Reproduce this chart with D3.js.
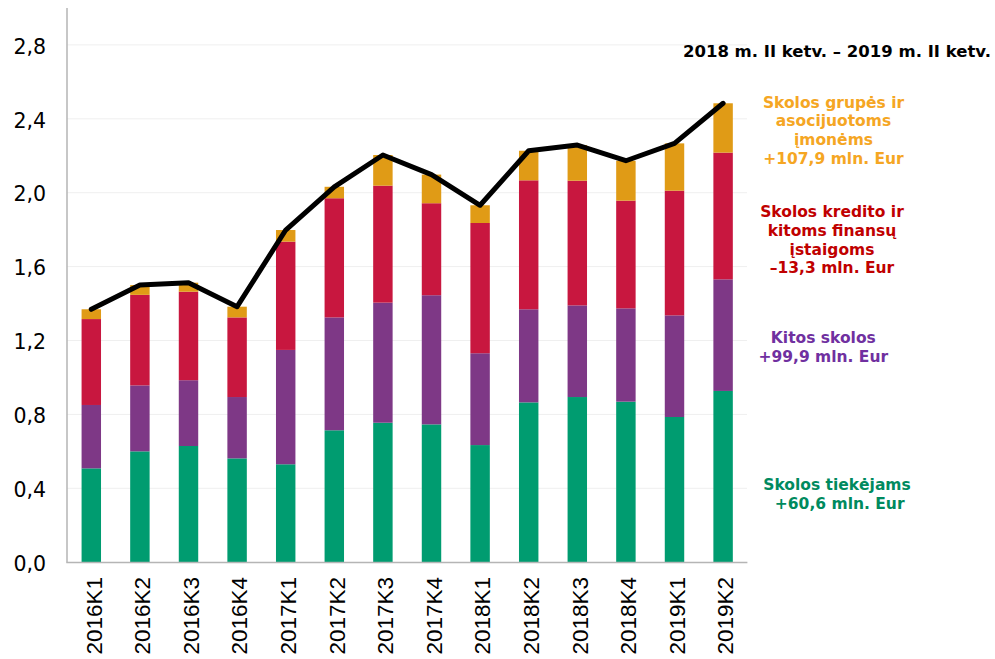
<!DOCTYPE html>
<html>
<head>
<meta charset="utf-8">
<script src="https://cdn.jsdelivr.net/npm/d3@7"></script>
<style>
  body { margin: 0; background: #fff; }
  svg { display: block; }
</style>
</head>
<body>
<svg id="chart" width="995" height="659"></svg>
<script>
// quarters on the x axis
const quarters = ["2016K1", "2016K2", "2016K3", "2016K4", "2017K1", "2017K2", "2017K3",
    "2017K4", "2018K1", "2018K2", "2018K3", "2018K4", "2019K1", "2019K2"];

// debt components (bln. Eur), bottom to top
const tiekejams = [0.508, 0.600, 0.629, 0.562, 0.530, 0.714, 0.755, 0.746, 0.634, 0.865, 0.894, 0.869, 0.786, 0.927];
const kitos     = [0.343, 0.357, 0.356, 0.332, 0.619, 0.611, 0.650, 0.699, 0.497, 0.504, 0.496, 0.505, 0.550, 0.604];
const kredito   = [0.465, 0.490, 0.479, 0.431, 0.586, 0.645, 0.633, 0.498, 0.705, 0.698, 0.675, 0.583, 0.675, 0.686];
const grupes    = [0.053, 0.053, 0.049, 0.058, 0.063, 0.062, 0.166, 0.155, 0.096, 0.160, 0.193, 0.216, 0.256, 0.267];

const yTicks = [0, 0.4, 0.8, 1.2, 1.6, 2.0, 2.4, 2.8];

const seriesKeys = ["tiekejams", "kitos", "kredito", "grupes"];
const colors = { tiekejams: "#009c70", kitos: "#7e3886", kredito: "#c8173f", grupes: "#e09b16" };

const rows = quarters.map((q, i) => ({
    q: q, tiekejams: tiekejams[i], kitos: kitos[i], kredito: kredito[i], grupes: grupes[i]
}));

const svg = d3.select("#chart");

const x = d3.scaleBand()
    .domain(quarters)
    .range([67, 747.4])
    .paddingInner(0.6)
    .paddingOuter(0.3);

const y = d3.scaleLinear()
    .domain([0, 2.8])
    .range([562.2, 44.9]);

// gridlines
svg.append("g")
    .selectAll("line")
    .data(yTicks.slice(1))
    .enter()
    .append("line")
    .attr("x1", 67)
    .attr("x2", 747)
    .attr("y1", d => y(d))
    .attr("y2", d => y(d))
    .attr("stroke", "#efefef")
    .attr("stroke-width", 1);

// stacked bars
const stack = d3.stack().keys(seriesKeys);
const layers = stack(rows);

svg.append("g")
    .selectAll("g")
    .data(layers)
    .enter()
    .append("g")
    .attr("fill", d => colors[d.key])
    .selectAll("rect")
    .data(d => d)
    .enter()
    .append("rect")
    .attr("x", d => x(d.data.q))
    .attr("y", d => y(d[1]))
    .attr("width", x.bandwidth())
    .attr("height", d => y(d[0]) - y(d[1]));

// total line
const line = d3.line()
    .x(d => x(d.q) + x.bandwidth() / 2)
    .y(d => y(d.tiekejams + d.kitos + d.kredito + d.grupes));

svg.append("path")
    .datum(rows)
    .attr("d", line)
    .attr("fill", "none")
    .attr("stroke", "#000")
    .attr("stroke-width", 5)
    .attr("stroke-linejoin", "round")
    .attr("stroke-linecap", "round");

// axes
const yAxis = d3.axisLeft(y)
    .tickValues(yTicks)
    .tickSize(0)
    .tickPadding(21)
    .tickFormat(d => d3.format(".1f")(d).replace(".", ","));

const gy = svg.append("g")
    .attr("transform", "translate(67,0)")
    .call(yAxis);
gy.select(".domain").remove();
gy.selectAll("text")
    .attr("font-family", "DejaVu Sans, Verdana, sans-serif")
    .attr("font-size", 20.5)
    .attr("fill", "#000")
    .attr("dy", "0.4em");

svg.append("line")
    .attr("x1", 67).attr("x2", 67)
    .attr("y1", 8).attr("y2", 562.5)
    .attr("stroke", "#b5b5b5").attr("stroke-width", 1.5);
svg.append("line")
    .attr("x1", 66.3).attr("x2", 747.4)
    .attr("y1", 562.5).attr("y2", 562.5)
    .attr("stroke", "#b5b5b5").attr("stroke-width", 1.5);

svg.append("g")
    .selectAll("text")
    .data(quarters)
    .enter()
    .append("text")
    .attr("transform", d => `translate(${x(d) + x.bandwidth() / 2 + 10.2}, 577) rotate(-90)`)
    .attr("text-anchor", "end")
    .attr("font-family", "Liberation Sans, Arial, sans-serif")
    .attr("font-size", 22.5)
    .attr("fill", "#000")
    .text(d => d);

// annotations
const notes = [
    { lines: ["2018 m. II ketv. – 2019 m. II ketv."], x: 837, y: 56.5, color: "#000", size: 16.5 },
    { lines: ["Skolos grupės ir", "asocijuotoms", "įmonėms", "+107,9 mln. Eur"], x: 833.5, y: 107.5, color: "#f5a623", size: 15.5 },
    { lines: ["Skolos kredito ir", "kitoms finansų", "įstaigoms", "–13,3 mln. Eur"], x: 832, y: 217.3, color: "#c00000", size: 15.5 },
    { lines: ["Kitos skolos", "+99,9 mln. Eur"], x: 823.3, y: 343.3, color: "#7030a0", size: 15.5 },
    { lines: ["Skolos tiekėjams", " +60,6 mln. Eur"], x: 837, y: 490, color: "#008a5e", size: 15.5 }
];

notes.forEach(n => {
    const t = svg.append("text")
        .attr("text-anchor", "middle")
        .attr("font-family", "DejaVu Sans, Verdana, sans-serif")
        .attr("font-weight", "bold")
        .attr("font-size", n.size)
        .attr("fill", n.color)
        .attr("xml:space", "preserve");
    n.lines.forEach((l, i) => {
        t.append("tspan")
            .attr("x", n.x)
            .attr("y", n.y + i * 18.7)
            .text(l);
    });
});
</script>
</body>
</html>
